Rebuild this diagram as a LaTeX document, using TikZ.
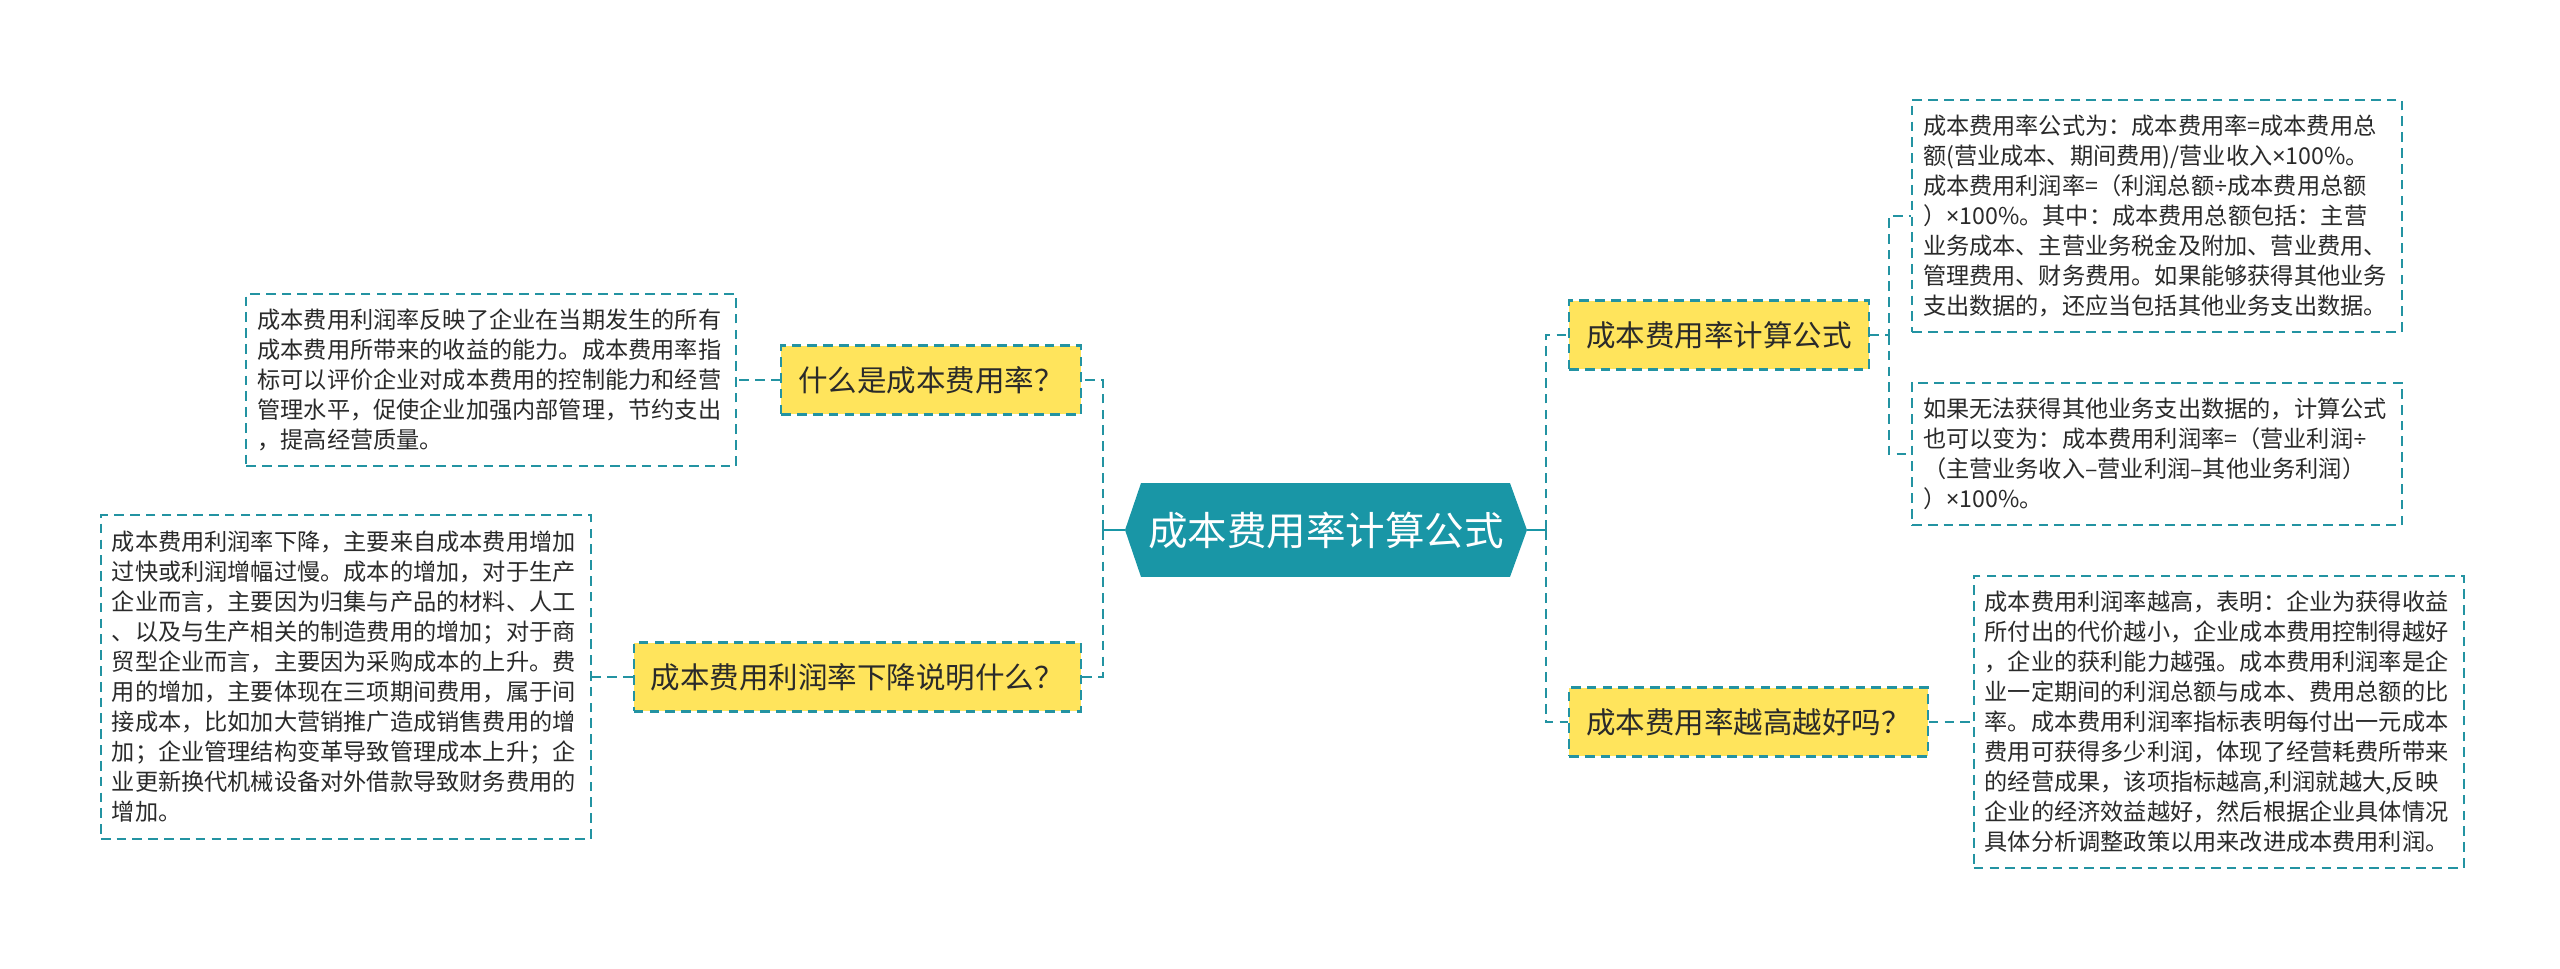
\documentclass[tikz,border=0pt]{standalone}
\usepackage{fontspec}
\setmainfont{Noto Sans CJK SC}
\newfontfamily\latinsign{Noto Sans}
\newcommand{\timessign}{{\latinsign ×}}
\newcommand{\divsign}{{\latinsign ÷}}
\usetikzlibrary{positioning,calc}
\definecolor{mapTeal}{HTML}{1996A6}
\definecolor{lineTeal}{HTML}{2393A2}
\definecolor{topicYellow}{HTML}{FFE45C}
\definecolor{inkGray}{HTML}{2A2A2A}
\tikzset{
  link/.style={draw=lineTeal,line width=1.15pt,dash pattern=on 5.5pt off 3.5pt},
  stem/.style={draw=mapTeal,line width=1.7pt},
  hub node/.style={fill=white,minimum width=8.04cm,minimum height=1.88cm,
    inner sep=0pt,text=white,font=\fontsize{22.5}{27}\selectfont,
    path picture={\fill[mapTeal] (path picture bounding box.west)
      -- ($(path picture bounding box.north west)+(0.32cm,0)$)
      -- ($(path picture bounding box.north east)+(-0.34cm,0)$)
      -- (path picture bounding box.east)
      -- ($(path picture bounding box.south east)+(-0.34cm,0)$)
      -- ($(path picture bounding box.south west)+(0.32cm,0)$) -- cycle;}},
  topic node/.style={draw=lineTeal,line width=1.15pt,dash pattern=on 5.5pt off 3.5pt,
    fill=topicYellow,minimum height=1.38cm,inner xsep=0.34cm,inner ysep=0pt,
    text=inkGray,font=\fontsize{16.8}{20}\selectfont},
  note node/.style={draw=lineTeal,line width=1.15pt,dash pattern=on 5.5pt off 3.5pt,
    fill=white,text width=9.36cm,inner xsep=0.22cm,inner ysep=1pt,align=left,
    text=inkGray,font=\fontsize{13.2}{17.07}\selectfont}
}

\begin{document}
\begin{tikzpicture}[x=0.02cm,y=-0.02cm]
  \path[fill=white,use as bounding box] (0,0) rectangle (2560,969);

  % centre
  \node[hub node] (hub) at (1326,530) {成本费用率计算公式};
  \coordinate (lj) at (1103,530);
  \coordinate (rj) at (1546,530);

  % left branch
  \node[topic node,anchor=east] (what) at (1082,380) {什么是成本费用率？};
  \node[topic node,anchor=east] (drop) at (1082,677) {成本费用利润率下降说明什么？};
  \node[note node,minimum height=3.44cm,left=0.86cm of what] (whatnote) {%
    成本费用利润率反映了企业在当期发生的所有\\
    成本费用所带来的收益的能力。成本费用率指\\
    标可以评价企业对成本费用的控制能力和经营\\
    管理水平，促使企业加强内部管理，节约支出\\
    ，提高经营质量。};
  \node[note node,minimum height=6.48cm,left=0.82cm of drop] (dropnote) {%
    成本费用利润率下降，主要来自成本费用增加\\
    过快或利润增幅过慢。成本的增加，对于生产\\
    企业而言，主要因为归集与产品的材料、人工\\
    、以及与生产相关的制造费用的增加；对于商\\
    贸型企业而言，主要因为采购成本的上升。费\\
    用的增加，主要体现在三项期间费用，属于间\\
    接成本，比如加大营销推广造成销售费用的增\\
    加；企业管理结构变革导致管理成本上升；企\\
    业更新换代机械设备对外借款导致财务费用的\\
    增加。};

  % right branch
  \node[topic node,anchor=west] (calc) at (1568,335) {成本费用率计算公式};
  \node[topic node,anchor=west] (high) at (1568,722) {成本费用率越高越好吗？};
  \coordinate (cj) at (1889,335);
  \node[note node,minimum height=4.64cm,anchor=west] (calcnote) at (1911,216) {%
    成本费用率公式为：成本费用率=成本费用总\\
    额(营业成本、期间费用)/营业收入\timessign100\%。\\
    成本费用利润率=（利润总额\divsign 成本费用总额\\
    ）\timessign100\%。其中：成本费用总额包括：主营\\
    业务成本、主营业务税金及附加、营业费用、\\
    管理费用、财务费用。如果能够获得其他业务\\
    支出数据的，还应当包括其他业务支出数据。};
  \node[note node,minimum height=2.86cm,anchor=west] (altnote) at (1911,454) {%
    如果无法获得其他业务支出数据的，计算公式\\
    也可以变为：成本费用利润率=（营业利润\divsign\\
    （主营业务收入–营业利润–其他业务利润）\\
    ）\timessign100\%。};
  \node[note node,minimum height=5.84cm,right=0.88cm of high] (highnote) {%
    成本费用利润率越高，表明：企业为获得收益\\
    所付出的代价越小，企业成本费用控制得越好\\
    ，企业的获利能力越强。成本费用利润率是企\\
    业一定期间的利润总额与成本、费用总额的比\\
    率。成本费用利润率指标表明每付出一元成本\\
    费用可获得多少利润，体现了经营耗费所带来\\
    的经营成果，该项指标越高,利润就越大,反映\\
    企业的经济效益越好，然后根据企业具体情况\\
    具体分析调整政策以用来改进成本费用利润。};

  % connectors
  \draw[stem] (hub.west) -- (lj);
  \draw[stem] (hub.east) -- (rj);
  \draw[link] (lj) |- (what.east);
  \draw[link] (lj) |- (drop.east);
  \draw[link] (rj) |- (calc.west);
  \draw[link] (rj) |- (high.west);
  \draw[link] (what.west) -- (whatnote.east);
  \draw[link] (drop.west) -- (dropnote.east);
  \draw[link] (calc.east) -- (cj) |- (calcnote.west);
  \draw[link] (cj) |- (altnote.west);
  \draw[link] (high.east) -- (highnote.west);
\end{tikzpicture}
\end{document}
